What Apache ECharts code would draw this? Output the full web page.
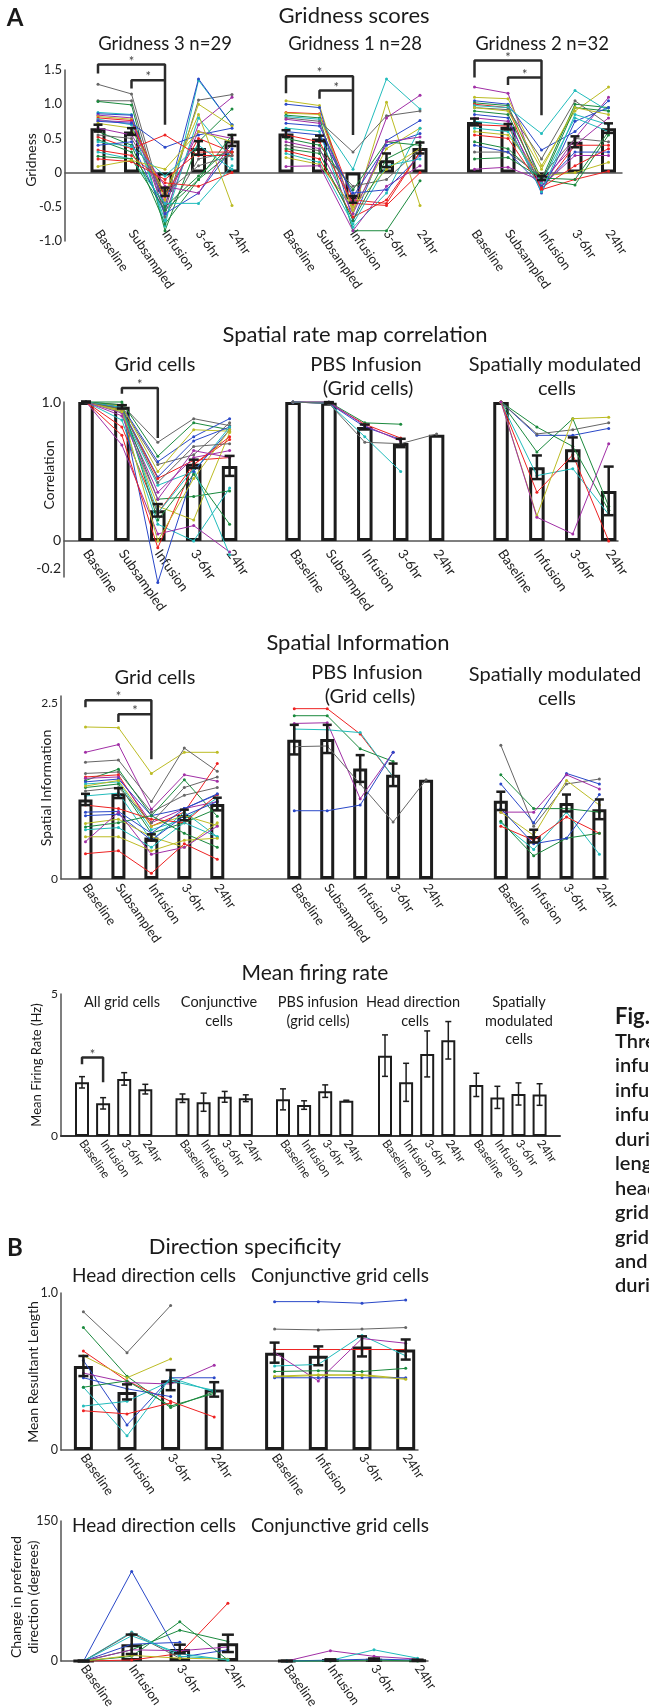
<!DOCTYPE html>
<html><head><meta charset="utf-8">
<script src="https://cdn.jsdelivr.net/npm/echarts@6/dist/echarts.min.js"></script>
<style>html,body{margin:0;padding:0;background:#fff}#c{width:649px;height:1708px}</style>
</head><body><div id="c"></div>
<script>
// ---------------- DATA ----------------
const cats5 = ['Baseline','Subsampled','Infusion','3-6hr','24hr'];
const cats4 = ['Baseline','Infusion','3-6hr','24hr'];

// Gridness scores
const gridness3Bars = [0.65, 0.60, -0.28, 0.36, 0.47];
const gridness3Err  = [0.05, 0.05, 0.06, 0.10, 0.08];
const gridness3Cells = [
 [1.29,1.15,-0.55,1.06,1.14],[1.05,1.05,-0.65,0.20,0.30],[1.04,0.99,-0.85,0.45,0.93],[0.88,0.85,-0.78,1.35,0.70],
 [0.86,0.84,-0.50,1.37,0.70],[0.84,0.80,-0.60,0.70,1.10],[0.82,0.78,-0.40,1.00,0.68],[0.80,0.76,-0.35,0.50,0.30],
 [0.78,0.70,-0.70,0.80,0.20],[0.76,0.74,-0.45,0.60,0.50],[0.75,0.72,0.37,0.55,0.65],[0.72,0.65,-0.30,0.85,-0.48],
 [0.60,0.40,-0.75,-0.10,0.55],[0.52,0.35,0.55,0.25,0.25],[0.48,0.30,-0.50,-0.05,0.40],[0.40,0.45,-0.60,-0.30,0.35],
 [0.33,0.25,-0.15,-0.20,0.00],[0.30,0.20,-0.45,-0.45,0.10],[0.24,0.20,-0.55,-0.10,0.30],[0.20,0.16,-0.10,0.30,0.30],
 [0.65,0.55,-0.20,-0.30,0.45],[0.09,0.18,0.05,0.60,0.45],[0.55,0.50,-0.30,0.10,0.25],[0.45,0.38,-0.05,0.40,0.05]];
const gridness3Colors = 'kkgcbmyrcmbygrgbrcgrmykc';
const gridness3Brackets = [[[0,1.45],[0,1.58],[2,1.58],[2,0.70]],[[1,1.23],[1,1.35],[2,1.35]]];
const gridness3Stars = [[0,2,1.58],[1,2,1.35]];

const gridness1Bars = [0.57, 0.50, -0.39, 0.18, 0.36];
const gridness1Err  = [0.05, 0.04, 0.05, 0.10, 0.08];
const gridness1Cells = [
 [1.05,0.98,-0.60,1.03,-0.48],[1.00,0.95,-0.70,0.47,0.76],[0.88,0.86,-0.40,-0.45,0.30],[0.87,0.85,-0.55,0.35,0.65],
 [0.84,0.80,-0.85,-0.85,-0.12],[0.82,0.78,0.05,1.37,0.93],[0.80,0.75,0.30,0.83,0.90],[0.78,0.72,-0.50,0.80,1.13],
 [0.72,0.68,-0.35,0.40,0.57],[0.65,0.60,-0.80,-0.30,0.65],[0.55,0.45,-0.45,-0.48,0.00],[0.50,0.40,-0.25,0.45,0.40],
 [0.45,0.35,-0.60,0.45,0.52],[0.40,0.32,-0.20,-0.10,0.35],[0.32,0.20,-0.65,-0.40,0.30],[0.28,0.15,-0.75,0.10,0.20],
 [0.22,0.12,-0.50,0.05,0.35],[0.09,0.10,-0.85,-0.20,0.10],[0.60,0.55,-0.30,-0.25,0.25],[0.35,0.28,-0.70,0.20,0.45]];
const gridness1Colors = 'ybrygckmbcrgmkrcymbg';
const gridness1Brackets = [[[0,1.16],[0,1.41],[2,1.41],[2,0.55]],[[1,1.08],[1,1.20],[2,1.20]]];
const gridness1Stars = [[0,2,1.41],[1,2,1.20]];

const gridness2Bars = [0.74, 0.67, -0.08, 0.45, 0.65];
const gridness2Err  = [0.05, 0.04, 0.03, 0.08, 0.07];
const gridness2Cells = [
 [1.25,1.16,-0.20,0.50,1.10],[1.10,1.08,0.10,0.90,1.25],[1.05,1.00,0.33,0.60,1.05],[1.02,0.98,-0.10,1.00,0.95],
 [1.00,0.95,-0.25,0.40,0.40],[0.98,0.95,0.57,1.20,0.90],[0.95,0.92,0.20,1.05,0.70],[0.90,0.85,-0.15,0.95,0.90],
 [0.85,0.80,-0.30,0.75,0.95],[0.80,0.75,-0.20,0.25,0.25],[0.70,0.68,-0.25,-0.10,0.02],[0.65,0.60,-0.15,0.80,0.60],
 [0.60,0.55,-0.05,0.00,0.15],[0.45,0.35,-0.10,-0.18,0.55],[0.30,0.30,-0.05,0.50,0.45],[0.40,0.30,-0.20,0.30,0.30],
 [0.55,0.50,-0.22,0.10,0.35],[0.20,0.22,-0.08,-0.10,0.60],[0.05,0.08,-0.12,0.40,0.80],[0.75,0.70,-0.28,0.85,0.70],
 [0.95,0.90,0.05,0.95,0.85]];
const gridness2Colors = 'mybgrckgbmrcygkbrgmcy';
const gridness2Brackets = [[[0,1.39],[0,1.64],[2,1.64],[2,0.84]],[[1,1.28],[1,1.39],[2,1.39]]];
const gridness2Stars = [[0,2,1.64],[1,2,1.39]];

// Spatial rate map correlation
const corrGridBars = [1.0, 0.965, 0.22, 0.555, 0.54];
const corrGridErr  = [0.004, 0.012, 0.045, 0.03, 0.072];
const corrGridCells = [
 [1,0.98,0.71,0.88,0.83],[1,1.00,0.61,0.85,0.80],[1,0.97,0.57,0.75,0.88],[1,0.96,0.55,0.62,0.85],
 [1,0.97,0.50,0.80,0.79],[1,0.95,0.46,0.72,0.82],[1,0.94,0.45,0.58,0.60],[1,0.93,0.40,0.50,0.82],
 [1,0.92,0.35,0.60,0.65],[1,0.95,0.30,0.32,0.36],[1,0.93,0.25,0.15,0.78],[1,0.82,0.20,0.55,0.73],
 [1,0.87,0.12,0.00,0.38],[1,0.69,0.05,0.11,-0.08],[1,0.96,-0.30,0.50,0.80],[1,0.76,-0.05,0.55,0.75],
 [1,0.94,0.00,0.45,0.80],[1,0.98,0.15,0.48,0.12],[1,0.96,0.20,0.52,-0.10],[1,0.90,0.30,0.65,0.60],
 [1,0.95,0.42,0.68,0.70]];
const corrGridColors = 'kgbkybrcmgyrcmbrygcmk';
const corrGridBrackets = [[[1,1.06],[1,1.10],[2,1.10],[2,0.74]]];
const corrGridStars = [[1,2,1.10]];

const corrPBSBars = [1.0, 0.995, 0.82, 0.705, 0.765];
const corrPBSErr  = [null, 0.004, 0.018, 0.03, null];
const corrPBSCells = [
 [1,1.00,0.85,0.84,'-'],[1,0.99,0.84,0.74,'-'],[1,0.99,0.82,0.73,'-'],
 [1,1.00,0.83,0.72,'-'],[1,0.99,0.75,0.50,'-'],[1,0.99,0.71,0.70,0.77]];
const corrPBSColors = 'grbmck';

const corrSMBars = [1.0, 0.53, 0.66, 0.36];
const corrSMErr  = [null, 0.085, 0.085, 0.175];
const corrSMCells = [
 [1,0.82,0.68,0.22],[1,0.76,0.76,0.81],[1,0.77,0.80,0.85],[1,0.64,0.88,0.25],
 [1,0.47,0.52,0.19],[1,0.35,0.62,0.00],[1,0.18,0.88,0.89],[1,0.17,0.05,0.70]];
const corrSMColors = 'gbkgcrym';

// Spatial information
const siGridBars = [1.13, 1.22, 0.59, 0.91, 1.065];
const siGridErr  = [0.08, 0.07, 0.045, 0.075, 0.09];
const siGridCells = [
 [2.16,2.15,1.50,1.80,1.80],[1.80,1.91,0.99,1.48,1.39],[1.66,1.69,1.10,1.86,1.53],[1.50,1.52,0.95,1.19,1.30],
 [1.40,1.56,0.90,1.41,0.89],[1.45,1.48,0.75,0.95,1.64],[1.43,1.45,0.80,1.00,1.10],[1.38,1.42,0.90,1.00,1.20],
 [1.35,1.38,0.70,0.85,1.15],[1.30,1.35,0.65,0.80,1.00],[1.32,1.40,0.75,0.90,0.76],[1.18,1.22,0.55,0.95,0.60],
 [1.05,1.00,0.85,0.80,1.20],[0.95,0.96,0.65,1.00,1.21],[0.90,0.92,0.55,0.90,1.10],[0.79,0.85,0.60,0.45,0.80],
 [0.74,0.80,0.90,0.65,0.45],[0.70,0.73,0.45,0.80,0.60],[0.60,0.60,0.40,0.55,0.58],[0.53,0.95,0.35,0.45,0.75],
 [0.36,0.40,0.08,0.50,0.28],[1.25,1.30,0.80,1.30,1.45]];
const siGridColors = 'ymkkgrmbcgycrbbygcymrk';
const siGridBrackets = [[[0,2.44],[0,2.54],[2,2.54],[2,1.70]],[[1,2.23],[1,2.34],[2,2.34]]];
const siGridStars = [[0,2,2.54],[1,2,2.34]];

const siPBSBars = [1.98, 1.99, 1.57, 1.48, 1.41];
const siPBSErr  = [0.21, 0.20, 0.19, 0.16, null];
const siPBSCells = [
 [2.42,2.42,2.06,1.45,'-'],[2.32,2.32,1.85,1.67,'-'],[2.21,2.22,1.14,1.80,'-'],
 [2.13,2.12,2.08,1.45,'-'],[1.88,1.89,1.35,0.81,1.41],[0.97,0.97,1.05,1.80,'-']];
const siPBSColors = 'rgmckb';

const siSMBars = [1.11, 0.61, 1.08, 0.99];
const siSMErr  = [0.13, 0.09, 0.12, 0.14];
const siSMCells = [
 [1.90,0.75,1.35,1.42],[1.48,1.00,1.00,0.95],[1.35,0.80,1.50,1.35],[0.95,0.95,1.48,1.28],[0.95,0.62,1.40,1.05],
 [0.80,0.42,0.95,0.35],[0.75,0.55,0.88,0.65],[0.82,0.33,0.58,0.65],[1.00,0.50,0.58,1.20]];
const siSMColors = 'kgbmycrgb';

// Mean firing rate
const mfrAllBars  = [1.89, 1.15, 2.01, 1.65];  const mfrAllErr  = [0.20, 0.20, 0.22, 0.17];
const mfrConjBars = [1.33, 1.19, 1.38, 1.33];  const mfrConjErr = [0.15, 0.32, 0.19, 0.12];
const mfrPBSBars  = [1.29, 1.09, 1.58, 1.24];  const mfrPBSErr  = [0.37, 0.15, 0.22, 0.02];
const mfrHDBars   = [2.83, 1.89, 2.89, 3.37];  const mfrHDErr   = [0.73, 0.67, 0.81, 0.66];
const mfrSMBars   = [1.80, 1.36, 1.48, 1.46];  const mfrSMErr   = [0.41, 0.39, 0.39, 0.38];
const mfrAllBrackets = [[[0,2.53],[0,2.76],[1,2.76],[1,1.89]]];
const mfrAllStars = [[0,1,2.76]];

// Direction specificity: mean resultant length
const mrlHDBars = [0.535, 0.37, 0.445, 0.386];
const mrlHDErr  = [0.064, 0.048, 0.064, 0.046];
const mrlHDCells = [
 [0.88,0.62,0.92,'-'],[0.78,0.47,0.27,0.37],[0.63,0.44,0.31,0.21],[0.60,0.46,0.58,'-'],
 [0.57,0.16,0.46,0.46],[0.49,0.43,0.42,0.54],[0.40,0.09,0.46,0.37],[0.28,0.31,0.44,0.38],
 [0.46,0.39,0.34,'-'],[0.40,0.44,0.28,0.36],[0.25,0.23,0.30,'-']];
const mrlHDColors = 'kgrybmccbgr';

const mrlConjBars = [0.62, 0.60, 0.66, 0.64];
const mrlConjErr  = [0.064, 0.06, 0.064, 0.064];
const mrlConjCells = [
 [0.945,0.945,0.935,0.955],[0.77,0.765,0.77,0.78],[0.64,0.64,0.64,0.64],[0.535,0.545,0.73,0.60],
 [0.62,0.44,0.71,0.68],[0.50,0.505,0.50,0.52],[0.465,0.475,0.48,0.455],[0.46,0.46,0.46,0.46],[0.47,0.48,0.475,0.45]];
const mrlConjColors = 'bkrcmgyby';

// Change in preferred direction (degrees)
const prefHDBars = [0, 17.9, 12.9, 18.9];
const prefHDErr  = [0.5, 10.4, 4.6, 9.3];
const prefHDCells = [
 [0,96,4,12],[0,1,8,62],[0,5,42,1],[0,12,33,21],[0,31,5,2],
 [0,30,3,'-'],[0,18,20,'-'],[0,12,11,15],[0,6,3,2],[0,27,8,1]];
const prefHDColors = 'brggckbmyc';

const prefConjBars = [0, 1.0, 1.5, 0.8];
const prefConjErr  = [0.3, 0.8, 1.2, 0.6];
const prefConjCells = [[0,11,5,2],[0,0.5,12,3],[0,1,2,1],[0,0,1,0]];
const prefConjColors = 'mcbg';

// Axis tick labels
const gridnessTicks = ['1.5','1.0','0.5','0','-0.5','-1.0'];
const corrTicks = ['1.0','0','-0.2'];
const siTicks = ['2.5','0'];
const mfrTicks = ['5','0'];
const mrlTicks = ['1.0','0'];
const prefTicks = ['150','0'];

// ---------------- STYLE / LAYOUT ----------------
const COL = {b:'#2a48c8', g:'#1b8a3e', r:'#ee2222', c:'#22bcbc', m:'#a12fa6', y:'#bcbc24', k:'#666666'};
const FONT = 'Lato, "Noto Sans", sans-serif';
const option = {animation:false, backgroundColor:'#fff', textStyle:{fontFamily:FONT},
  grid:[], xAxis:[], yAxis:[], series:[], graphic:[]};

function tickFmt(list){
  return function(v){
    for (const t of list){ if (Math.abs(parseFloat(t) - v) < 1e-6) return t; }
    return '';
  };
}

function addSection(s){
  const gi = option.grid.length;
  option.grid.push({left:s.axisX, top:s.top, width:s.right - s.axisX, height:s.bottom - s.top, containLabel:false, outerBoundsMode:'none'});
  option.xAxis.push({gridIndex:gi, type:'value', min:0, max:1, axisLabel:{show:false}, axisTick:{show:false},
    splitLine:{show:false}, axisLine:{show:true, onZero:true, lineStyle:{color:s.zeroColor||'#555', width:s.zeroW||1.5}}});
  option.yAxis.push({gridIndex:gi, type:'value', min:s.ymin, max:s.ymax, interval:s.interval,
    splitLine:{show:false}, axisTick:{show:false},
    axisLine:{show:true, lineStyle:{color:'#555', width:1.5}},
    axisLabel:{formatter:tickFmt(s.ticks), fontSize:s.tickSize, color:'#222', margin:3, fontFamily:FONT, hideOverlap:false}});
  s.panels.forEach(p => addPanel(s, p));
}

function addPanel(s, p){
  const st = s.style;
  const gi = option.grid.length;
  option.grid.push({left:p.left, top:s.top, width:p.sp * p.cats.length, height:s.bottom - s.top, containLabel:false, outerBoundsMode:'none'});
  option.xAxis.push({gridIndex:gi, type:'category', data:p.cats, axisLine:{show:false}, axisTick:{show:false},
    axisLabel:{rotate:-55, margin:st.lblMargin, fontSize:st.lblSize, color:'#222', interval:0, hideOverlap:false, fontFamily:FONT}});
  option.yAxis.push({gridIndex:gi, type:'value', min:s.ymin, max:s.ymax, show:false});
  option.series.push({type:'bar', xAxisIndex:gi, yAxisIndex:gi, data:p.bars, barWidth:p.barWidth || st.barWidth,
    itemStyle:{color:'#fff', borderColor:'#1c1c1c', borderWidth:st.border}, z:2, silent:true});
  (p.lines || []).forEach((v, i) => {
    const c = COL[p.colors[i]];
    option.series.push({type:'line', xAxisIndex:gi, yAxisIndex:gi, data:v, symbol:'circle', symbolSize:3, showSymbol:true,
      lineStyle:{width:1, color:c}, itemStyle:{color:c}, z:3, clip:false, silent:true, connectNulls:false});
  });
  const errData = [];
  p.bars.forEach((m, i) => { if (p.errs[i] != null) errData.push([i, m, p.errs[i]]); });
  option.series.push({type:'custom', xAxisIndex:gi, yAxisIndex:gi, z:6, silent:true, clip:false, data:errData,
    encode:{x:0, y:1},
    renderItem:(params, api) => {
      const x = api.value(0), m = api.value(1), e = api.value(2);
      const t = api.coord([x, m + e]), b = api.coord([x, m - e]);
      const w = st.cap / 2;
      const sty = {stroke:'#1c1c1c', lineWidth:st.errW};
      return {type:'group', children:[
        {type:'line', shape:{x1:t[0], y1:t[1], x2:b[0], y2:b[1]}, style:sty},
        {type:'line', shape:{x1:t[0]-w, y1:t[1], x2:t[0]+w, y2:t[1]}, style:sty},
        {type:'line', shape:{x1:b[0]-w, y1:b[1], x2:b[0]+w, y2:b[1]}, style:sty}]};
    }});
  (p.brackets || []).forEach(br => option.series.push({type:'line', xAxisIndex:gi, yAxisIndex:gi, data:br, symbol:'none',
    lineStyle:{color:'#2b2b2b', width:st.brW || 2.5}, clip:false, z:4, silent:true}));
  if (p.stars) option.series.push({type:'custom', xAxisIndex:gi, yAxisIndex:gi, z:6, silent:true, clip:false, data:p.stars,
    encode:{x:[0,1], y:2},
    renderItem:(params, api) => {
      const a = api.coord([api.value(0), api.value(2)]);
      const b = api.coord([api.value(1), api.value(2)]);
      return {type:'text', x:(a[0] + b[0]) / 2, y:a[1] - 3, style:{text:'*', fill:'#444', font:'13px ' + FONT,
        align:'center', verticalAlign:'middle', textAlign:'center', textVerticalAlign:'middle'}};
    }});
}

// Section A: gridness
addSection({top:70, bottom:241, axisX:65, right:622, ymin:-1, ymax:1.5, interval:0.5, ticks:gridnessTicks, tickSize:13,
  style:{barWidth:15, border:3, errW:2.5, cap:9, lblSize:13, lblMargin:-10},
  panels:[
    {left:81.25, sp:33.5, cats:cats5, bars:gridness3Bars, errs:gridness3Err, lines:gridness3Cells, colors:gridness3Colors, brackets:gridness3Brackets, stars:gridness3Stars},
    {left:269.25, sp:33.5, cats:cats5, bars:gridness1Bars, errs:gridness1Err, lines:gridness1Cells, colors:gridness1Colors, brackets:gridness1Brackets, stars:gridness1Stars},
    {left:457.75, sp:33.5, cats:cats5, bars:gridness2Bars, errs:gridness2Err, lines:gridness2Cells, colors:gridness2Colors, brackets:gridness2Brackets, stars:gridness2Stars}]});

// Spatial rate map correlation
addSection({top:402, bottom:577, axisX:64, right:618, ymin:-0.26, ymax:1.0, interval:0.02, ticks:corrTicks, tickSize:14,
  style:{barWidth:15.5, border:3, errW:2.5, cap:10, lblSize:13.5, lblMargin:-26},
  panels:[
    {left:68.05, sp:35.9, cats:cats5, bars:corrGridBars, errs:corrGridErr, lines:corrGridCells, colors:corrGridColors, brackets:corrGridBrackets, stars:corrGridStars},
    {left:275.05, sp:35.9, cats:cats5, bars:corrPBSBars, errs:corrPBSErr, lines:corrPBSCells, colors:corrPBSColors},
    {left:483.05, sp:35.9, cats:cats4, bars:corrSMBars, errs:corrSMErr, lines:corrSMCells, colors:corrSMColors}]});

// Spatial information
addSection({top:696, bottom:879, axisX:61, right:608, ymin:0, ymax:2.6, interval:0.1, ticks:siTicks, tickSize:12,
  style:{barWidth:14, border:3, errW:2.5, cap:9, lblSize:13, lblMargin:6},
  panels:[
    {left:69.0, sp:32.95, cats:cats5, bars:siGridBars, errs:siGridErr, lines:siGridCells, colors:siGridColors, brackets:siGridBrackets, stars:siGridStars},
    {left:277.8, sp:32.95, cats:cats5, bars:siPBSBars, errs:siPBSErr, lines:siPBSCells, colors:siPBSColors},
    {left:484.4, sp:32.85, cats:cats4, bars:siSMBars, errs:siSMErr, lines:siSMCells, colors:siSMColors}]});

// Mean firing rate
addSection({top:994, bottom:1136, axisX:61, right:560, ymin:0, ymax:5, interval:5, ticks:mfrTicks, tickSize:12, zeroColor:'#333', zeroW:2,
  style:{barWidth:14, border:2, errW:1.5, cap:6, lblSize:12, lblMargin:5, brW:2.5},
  panels:[
    {left:71.45, sp:21.1, cats:cats4, bars:mfrAllBars, errs:mfrAllErr, brackets:mfrAllBrackets, stars:mfrAllStars},
    {left:171.95, sp:21.1, cats:cats4, bars:mfrConjBars, errs:mfrConjErr},
    {left:272.45, sp:21.1, cats:cats4, bars:mfrPBSBars, errs:mfrPBSErr},
    {left:374.45, sp:21.1, cats:cats4, bars:mfrHDBars, errs:mfrHDErr},
    {left:465.75, sp:21.1, cats:cats4, bars:mfrSMBars, errs:mfrSMErr}]});

// Mean resultant length
addSection({top:1293, bottom:1450, axisX:61, right:418, ymin:0, ymax:1, interval:1, ticks:mrlTicks, tickSize:12.5,
  style:{barWidth:19, border:3, errW:2.5, cap:10, lblSize:13, lblMargin:5},
  panels:[
    {left:61.6, sp:43.6, cats:cats4, bars:mrlHDBars, errs:mrlHDErr, lines:mrlHDCells, colors:mrlHDColors},
    {left:252.75, sp:43.7, cats:cats4, bars:mrlConjBars, errs:mrlConjErr, lines:mrlConjCells, colors:mrlConjColors}]});

// Change in preferred direction
addSection({top:1521, bottom:1661, axisX:61, right:428, ymin:0, ymax:150, interval:150, ticks:prefTicks, tickSize:12.5,
  style:{barWidth:20, border:3, errW:2.5, cap:12, lblSize:13, lblMargin:5},
  panels:[
    {left:59.55, sp:48.1, cats:cats4, bars:prefHDBars, errs:prefHDErr, lines:prefHDCells, colors:prefHDColors, barWidth:20.5},
    {left:265.0, sp:43.6, cats:cats4, bars:prefConjBars, errs:prefConjErr, lines:prefConjCells, colors:prefConjColors, barWidth:17.7}]});

// Texts (titles, subtitles, axis names, caption)
function txt(t, x, y, size, opt){
  opt = opt || {};
  option.graphic.push({type:'text', x:x, y:y, rotation:opt.rot || 0, silent:true,
    style:{text:t, fill:opt.color || '#1a1a1a', font:(opt.weight || 'normal') + ' ' + size + 'px ' + FONT,
      align:opt.align || 'center', verticalAlign:'middle', textAlign:opt.align || 'center', textVerticalAlign:'middle'}});
}
const R = Math.PI / 2;
txt('A', 15, 18, 24, {weight:'bold'});
txt('Gridness scores', 354, 16, 22);
txt('Gridness 3 n=29', 165, 44, 18.5);
txt('Gridness 1 n=28', 355, 44, 18.5);
txt('Gridness 2 n=32', 542, 44, 18.5);
txt('Gridness', 31, 160, 14, {rot:R});

txt('Spatial rate map correlation', 355, 335, 22);
txt('Grid cells', 155, 365, 20);
txt('PBS Infusion', 366, 365, 20);
txt('(Grid cells)', 368, 389, 20);
txt('Spatially modulated', 555, 365, 20);
txt('cells', 557, 389, 20);
txt('Correlation', 49, 475, 14, {rot:R});

txt('Spatial Information', 358, 643, 22);
txt('Grid cells', 155, 678, 20);
txt('PBS Infusion', 367, 673, 20);
txt('(Grid cells)', 370, 697, 20);
txt('Spatially modulated', 555, 675, 20);
txt('cells', 557, 699, 20);
txt('Spatial Information', 46, 788, 14, {rot:R});

txt('Mean firing rate', 315, 973, 21);
txt('All grid cells', 122, 1002, 14.5);
txt('Conjunctive', 219, 1002, 14.5);
txt('cells', 219, 1021, 14.5);
txt('PBS infusion', 318, 1002, 14.5);
txt('(grid cells)', 318, 1021, 14.5);
txt('Head direction', 413, 1002, 14.5);
txt('cells', 415, 1021, 14.5);
txt('Spatially', 519, 1002, 14.5);
txt('modulated', 519, 1021, 14.5);
txt('cells', 519, 1039, 14.5);
txt('Mean Firing Rate (Hz)', 37, 1065, 13, {rot:R});

txt('B', 15, 1248, 24, {weight:'bold'});
txt('Direction specificity', 245, 1247, 22);
txt('Head direction cells', 154, 1276, 19);
txt('Conjunctive grid cells', 340, 1276, 19);
txt('Mean Resultant Length', 33, 1372, 14, {rot:R});

txt('Head direction cells', 154, 1526, 19);
txt('Conjunctive grid cells', 340, 1526, 19);
txt('Change in preferred', 16.5, 1597, 14, {rot:R});
txt('direction (degrees)', 33, 1597, 14, {rot:R});

const captionLines = ['Fig.','Thre','infu','infu','infu','duri','leng','head','grid','grid','and','duri'];
captionLines.forEach((t, i) => txt(t, 615, 1017 + 24.45 * i, i === 0 ? 22 : 20, {align:'left', weight: i === 0 ? 'bold' : '600'}));

const chart = echarts.init(document.getElementById('c'), null, {renderer:'canvas', width:649, height:1708});
chart.setOption(option);
</script></body></html>
